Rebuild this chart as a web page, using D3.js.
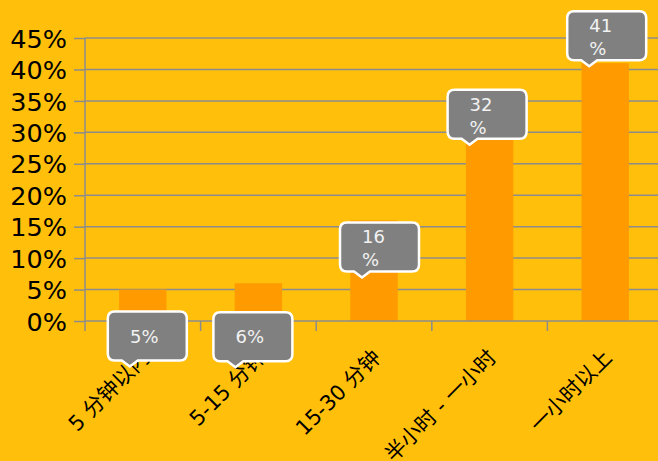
<!DOCTYPE html>
<html>
<head>
<meta charset="utf-8">
<script src="https://cdn.jsdelivr.net/npm/d3@7"></script>
<style>
  body { margin: 0; background: #FFBF0B; }
  svg { display: block; }
  .grid line { stroke: #8c8c8c; stroke-width: 1.5; }
  .axis path, .axis line { stroke: #8c8c8c; stroke-width: 1.5; }
  .axis text { fill: #000; }
</style>
</head>
<body>
<div id="chart"></div>
<script>
var categories = ["5 分钟以内", "5-15 分钟", "15-30 分钟", "半小时 - 一小时", "一小时以上"];
var values = [5, 6, 16, 32, 41];
var yTicks = [0, 5, 10, 15, 20, 25, 30, 35, 40, 45];

// callout placement (px) relative to bar top / bar centre
var calloutDy = [77, 84, 57, 25, 3],
    calloutDx = [-35, -45, -34, -42, -38];

var W = 658, H = 461,
    margin = {top: 38, right: -5, bottom: 140, left: 85},
    width = W - margin.left - margin.right,
    height = H - margin.top - margin.bottom;

var font = "'DejaVu Sans', 'Noto Sans CJK SC', sans-serif";

var svg = d3.select("#chart").append("svg")
    .attr("width", W)
    .attr("height", H);

svg.append("rect").attr("width", W).attr("height", H).attr("fill", "#FFBF0B");

var g = svg.append("g")
    .attr("transform", "translate(" + margin.left + "," + margin.top + ")");

var x = d3.scaleBand().domain(categories).range([0, width]).paddingInner(0.59).paddingOuter(0.295);
var xb = d3.scaleBand().domain(categories).range([0, width]);
var y = d3.scaleLinear().domain([0, 45]).range([height, 0]);

// grid
g.append("g").attr("class", "grid")
  .selectAll("line").data(yTicks.slice(1)).enter().append("line")
    .attr("x1", 0).attr("x2", W)
    .attr("y1", function(d) { return y(d); })
    .attr("y2", function(d) { return y(d); });

// bars
g.selectAll("rect.bar").data(values).enter().append("rect")
    .attr("class", "bar")
    .attr("x", function(d, i) { return x(categories[i]); })
    .attr("width", x.bandwidth())
    .attr("y", function(d) { return y(d); })
    .attr("height", function(d) { return height - y(d); })
    .attr("fill", "#FF9A00");

// y axis
var yAxis = d3.axisLeft(y).tickValues(yTicks).tickSize(11).tickPadding(7)
    .tickFormat(function(d) { return d + "%"; });
var ya = g.append("g").attr("class", "axis").call(yAxis);
ya.select(".domain").attr("d", "M0,0V" + (height + 10));
ya.selectAll("text").style("font-family", font).style("font-size", "25.5px").attr("dy", "0.36em");

// x axis
var xa = g.append("g").attr("class", "axis")
    .attr("transform", "translate(0," + height + ")");
xa.append("line").attr("x1", 0).attr("x2", W);
xa.selectAll("line.tk").data(categories.slice(1)).enter().append("line")
    .attr("class", "tk")
    .attr("x1", function(d) { return xb(d); })
    .attr("x2", function(d) { return xb(d); })
    .attr("y1", 0).attr("y2", 10);
xa.selectAll("text").data(categories).enter().append("text")
    .attr("transform", function(d) {
      return "translate(" + (xb(d) + xb.bandwidth() / 2 + 8) + ",38) rotate(-45)";
    })
    .attr("text-anchor", "end")
    .style("font-family", font)
    .style("font-size", "21px")
    .text(function(d) { return d; });

// callouts
var bw = 79, bh = 49, r = 7;
function calloutPath(w, h, px) {
  return "M" + r + ",0H" + (w - r) + "Q" + w + ",0 " + w + "," + r +
    "V" + (h - r) + "Q" + w + "," + h + " " + (w - r) + "," + h +
    "H" + (px + 8) + "L" + px + "," + (h + 6) + "L" + (px - 8) + "," + h +
    "H" + r + "Q0," + h + " 0," + (h - r) + "V" + r + "Q0,0 " + r + ",0Z";
}
var calls = g.selectAll("g.callout").data(values).enter().append("g")
    .attr("class", "callout")
    .attr("transform", function(d, i) {
      var cx = x(categories[i]) + x.bandwidth() / 2 + calloutDx[i];
      var cy = y(d) + calloutDy[i] - bh - 6;
      return "translate(" + cx + "," + cy + ")";
    });
calls.append("path")
    .attr("d", calloutPath(bw, bh, 22))
    .attr("fill", "#808080")
    .attr("stroke", "#fff")
    .attr("stroke-width", 2.5);
calls.each(function(d) {
  var t = d3.select(this).append("text")
      .attr("fill", "#f2f2f2")
      .style("font-family", font)
      .style("font-size", "18px");
  if (d < 10) {
    t.attr("x", bw / 2 - 3).attr("y", 31).attr("text-anchor", "middle").text(d + "%");
  } else {
    t.append("tspan").attr("x", 22).attr("y", 21).text(d);
    t.append("tspan").attr("x", 22).attr("y", 44).text("%");
  }
});
</script>
</body>
</html>
